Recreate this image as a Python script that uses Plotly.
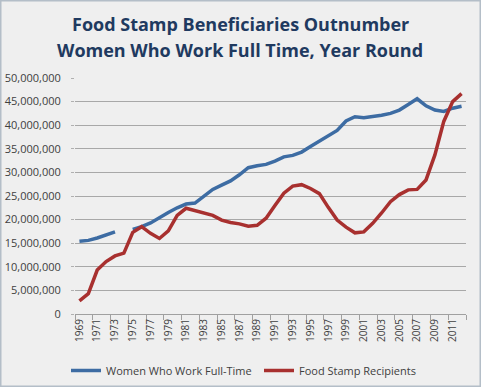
import plotly.graph_objects as go

years = list(range(1969, 2013))
women_full_time = [15.4, 15.6, 16.1, 16.7, 17.4, None, 17.9, 18.5, 19.3, 20.5,
                   21.5, 22.5, 23.3, 23.5, 25.0, 26.4, 27.3, 28.2, 29.5, 31.0,
                   31.4, 31.7, 32.4, 33.3, 33.6, 34.3, 35.5, 36.6, 37.7, 38.9,
                   40.9, 41.8, 41.6, 41.8, 42.1, 42.5, 43.2, 44.4, 45.6, 44.1,
                   43.2, 42.9, 43.6, 44.0]
food_stamps = [2.8, 4.3, 9.3, 11.1, 12.3, 12.9, 17.3, 18.5, 17.1, 16.0,
               17.6, 20.9, 22.4, 21.9, 21.5, 20.9, 19.9, 19.4, 19.1, 18.6,
               18.8, 20.3, 23.0, 25.6, 27.1, 27.4, 26.6, 25.5, 22.6, 19.9,
               18.4, 17.2, 17.4, 19.2, 21.4, 23.8, 25.3, 26.3, 26.4, 28.4,
               33.7, 40.8, 45.0, 46.7]
women_full_time = [v * 1e6 if v is not None else None for v in women_full_time]
food_stamps = [v * 1e6 for v in food_stamps]
tick_years = list(range(1969, 2012, 2))
y_ticks = list(range(0, 50_000_001, 5_000_000))

title_lines = ["Food Stamp Beneficiaries Outnumber",
               "Women Who Work Full Time, Year Round"]

fig = go.Figure()
fig.add_trace(go.Scatter(x=years, y=women_full_time, mode="lines",
                         name="Women Who Work Full-Time",
                         line=dict(color="#3D6CA3", width=3.5), connectgaps=False))
fig.add_trace(go.Scatter(x=years, y=food_stamps, mode="lines",
                         name="Food Stamp Recipients",
                         line=dict(color="#A8302F", width=3.5)))

L, R, T, B = 75, 15, 78, 73
W, H = 481, 387
pw, ph = W - L - R, H - T - B

annotations = []
for i, line in enumerate(title_lines):
    annotations.append(dict(
        text=line, xref="paper", yref="paper", showarrow=False,
        x=(240 - L) / pw, xanchor="center",
        y=(H - B - (24 + 26 * i)) / ph, yanchor="middle",
        font=dict(family="Open Sans", size=18, color="#1F3A60", weight="bold")))

fig.update_layout(
    width=W, height=H,
    margin=dict(l=L, r=R, t=T, b=B, autoexpand=False),
    paper_bgcolor="#EFEFEF", plot_bgcolor="#EFEFEF",
    font=dict(family="Open Sans", color="#404040", size=11),
    showlegend=True,
    legend=dict(orientation="h", x=(66 - L) / pw, xanchor="left",
                y=-(366 - (H - B) - 10) / ph, yanchor="top",
                font=dict(size=11, color="#404040"), bgcolor="rgba(0,0,0,0)",
                entrywidth=148, itemwidth=30),
    xaxis=dict(range=[1968.5, 2012.5], tickmode="array", tickvals=tick_years,
               ticktext=[str(y) for y in tick_years], tickangle=-90,
               ticks="", showgrid=False, zeroline=False, automargin=False,
               showline=True, linecolor="#A0A0A0", linewidth=1,
               tickfont=dict(size=10, color="#404040"),
               minor=dict(tickvals=[y - 0.5 for y in range(1969, 2014, 2)],
                          ticks="outside", ticklen=5, tickcolor="#A0A0A0", showgrid=False)),
    yaxis=dict(range=[0, 50_000_000], tickmode="array", tickvals=y_ticks,
               tickformat=",d", showgrid=True, gridcolor="#A8A8A8", gridwidth=1,
               zeroline=False, showline=False, ticks="outside", ticklen=3,
               automargin=False, ticklabelstandoff=8,
               tickcolor="#B0B0B0", tickfont=dict(size=11, color="#404040")),
    annotations=annotations,
    shapes=[dict(type="rect", xref="paper", yref="paper",
                 x0=-L / pw + 0.5 / pw, x1=(W - L) / pw - 0.5 / pw,
                 y0=-B / ph + 0.5 / ph, y1=(H - B) / ph - 0.5 / ph,
                 line=dict(color="#B4BEC8", width=2), layer="below")],
)

fig.write_html("out.html", config={"displayModeBar": False},
               post_script="document.body.style.margin='0';document.body.style.overflow='hidden';")
